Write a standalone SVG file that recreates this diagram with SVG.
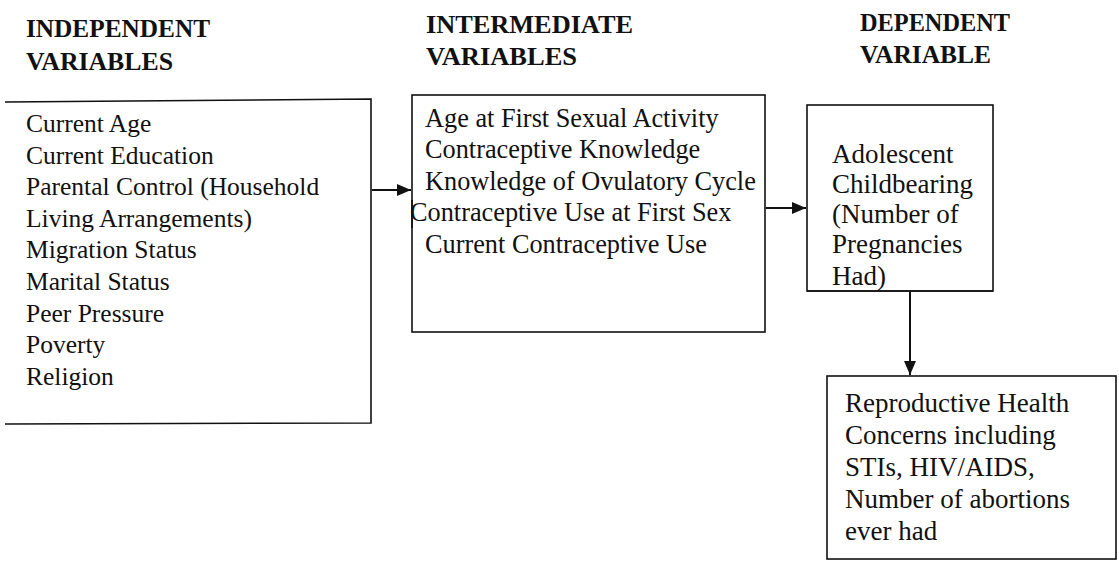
<svg xmlns="http://www.w3.org/2000/svg" width="1119" height="563" viewBox="0 0 1119 563">
<style>
.box{fill:#fff;stroke:#111;stroke-width:1.6}
.hd{font-family:'Liberation Serif',Tinos,'Times New Roman',Times,'DejaVu Serif',serif;font-weight:bold;font-size:26px;fill:#111}
.tx{font-family:'Liberation Serif',Tinos,'Times New Roman',Times,'DejaVu Serif',serif;font-size:25.5px;fill:#111}
.cn{stroke:#111;stroke-width:2;fill:none}
</style>
<defs>
<marker id="ah" viewBox="0 0 14 12" refX="14" refY="6" markerWidth="14" markerHeight="12" markerUnits="userSpaceOnUse" orient="auto">
<path d="M0,0 L14,6 L0,12 Z" fill="#111"/>
</marker>
</defs>
<rect width="1119" height="563" fill="#fff"/>
<g id="headings">
<text class="hd" x="26" y="37" textLength="184" lengthAdjust="spacingAndGlyphs">INDEPENDENT</text>
<text class="hd" x="26" y="70" textLength="147" lengthAdjust="spacingAndGlyphs">VARIABLES</text>
<text class="hd" x="426" y="33" textLength="207" lengthAdjust="spacingAndGlyphs">INTERMEDIATE</text>
<text class="hd" x="426" y="65" textLength="151" lengthAdjust="spacingAndGlyphs">VARIABLES</text>
<text class="hd" x="860" y="31" textLength="150" lengthAdjust="spacingAndGlyphs">DEPENDENT</text>
<text class="hd" x="860" y="63" textLength="131" lengthAdjust="spacingAndGlyphs">VARIABLE</text>
</g>
<g id="independent">
<path class="box" d="M5,102 L371,99 L371,423 L5,424"/>
<text class="tx" x="26" y="132">Current Age</text>
<text class="tx" x="26" y="163.5">Current Education</text>
<text class="tx" x="26" y="195">Parental Control (Household</text>
<text class="tx" x="26" y="227">Living Arrangements)</text>
<text class="tx" x="26" y="258">Migration Status</text>
<text class="tx" x="26" y="290">Marital Status</text>
<text class="tx" x="26" y="322">Peer Pressure</text>
<text class="tx" x="26" y="353">Poverty</text>
<text class="tx" x="26" y="385">Religion</text>
</g>
<g id="intermediate">
<rect class="box" x="412" y="95" width="353" height="237"/>
<text class="tx" x="425" y="127" style="font-size:26.3px">Age at First Sexual Activity</text>
<text class="tx" x="425" y="158" style="font-size:26.3px">Contraceptive Knowledge</text>
<text class="tx" x="425" y="190" style="font-size:26.3px">Knowledge of Ovulatory Cycle</text>
<text class="tx" x="410" y="221" style="font-size:26.3px">Contraceptive Use at First Sex</text>
<text class="tx" x="425" y="253" style="font-size:26.3px">Current Contraceptive Use</text>
<line x1="412" y1="200" x2="412" y2="228" class="box"/>
</g>
<g id="dependent">
<rect class="box" x="807" y="105" width="186" height="186"/>
<text class="tx" x="832" y="163" style="font-size:27px">Adolescent</text>
<text class="tx" x="832" y="193" style="font-size:27px">Childbearing</text>
<text class="tx" x="832" y="223" style="font-size:27px">(Number of</text>
<text class="tx" x="832" y="253" style="font-size:27px">Pregnancies</text>
<text class="tx" x="832" y="285" style="font-size:27px">Had)</text>
<line x1="807" y1="291" x2="993" y2="291" class="box"/>
</g>
<g id="health">
<rect class="box" x="827" y="376" width="289" height="183"/>
<text class="tx" x="845" y="412" style="font-size:27px">Reproductive Health</text>
<text class="tx" x="845" y="444" style="font-size:27px">Concerns including</text>
<text class="tx" x="845" y="476" style="font-size:27px">STIs, HIV/AIDS,</text>
<text class="tx" x="845" y="508" style="font-size:27px">Number of abortions</text>
<text class="tx" x="845" y="540" style="font-size:27px">ever had</text>
</g>
<g id="connectors">
<line class="cn" x1="372" y1="190" x2="411" y2="190" marker-end="url(#ah)"/>
<line class="cn" x1="766" y1="208" x2="806" y2="208" marker-end="url(#ah)"/>
<line class="cn" x1="910" y1="292" x2="910" y2="375" marker-end="url(#ah)"/>
</g>
</svg>
